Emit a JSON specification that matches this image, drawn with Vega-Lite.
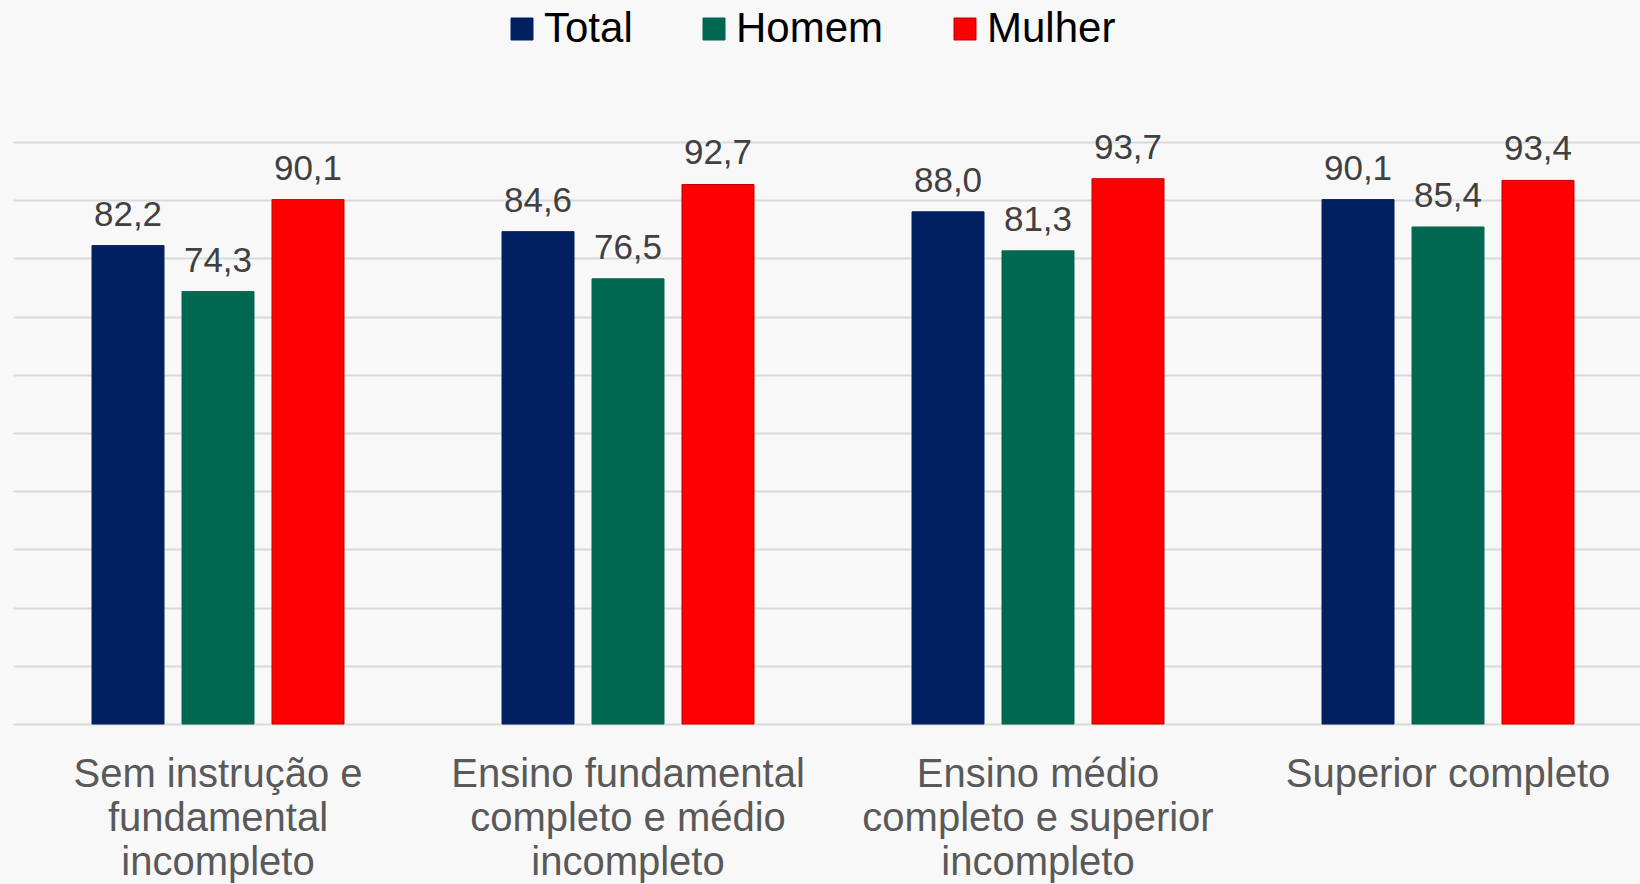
{
  "$schema": "https://vega.github.io/schema/vega-lite/v6.json",
  "autosize": "none",
  "width": 1627,
  "height": 582,
  "padding": {"left": 13, "top": 142, "right": 0, "bottom": 160},
  "background": "#f8f8f8",
  "data": {
    "values": [
      {"grupo": "Sem instrução e fundamental incompleto", "sexo": "Total", "valor": 82.2},
      {"grupo": "Sem instrução e fundamental incompleto", "sexo": "Homem", "valor": 74.3},
      {"grupo": "Sem instrução e fundamental incompleto", "sexo": "Mulher", "valor": 90.1},
      {"grupo": "Ensino fundamental completo e médio incompleto", "sexo": "Total", "valor": 84.6},
      {"grupo": "Ensino fundamental completo e médio incompleto", "sexo": "Homem", "valor": 76.5},
      {"grupo": "Ensino fundamental completo e médio incompleto", "sexo": "Mulher", "valor": 92.7},
      {"grupo": "Ensino médio completo e superior incompleto", "sexo": "Total", "valor": 88.0},
      {"grupo": "Ensino médio completo e superior incompleto", "sexo": "Homem", "valor": 81.3},
      {"grupo": "Ensino médio completo e superior incompleto", "sexo": "Mulher", "valor": 93.7},
      {"grupo": "Superior completo", "sexo": "Total", "valor": 90.1},
      {"grupo": "Superior completo", "sexo": "Homem", "valor": 85.4},
      {"grupo": "Superior completo", "sexo": "Mulher", "valor": 93.4}
    ]
  },
  "encoding": {
    "x": {
      "field": "grupo",
      "type": "nominal",
      "sort": null,
      "scale": {"range": [0, 1640], "paddingInner": 0, "paddingOuter": 0},
      "axis": {
        "title": null,
        "domain": false,
        "ticks": false,
        "labelAngle": 0,
        "labelFont": "Liberation Sans, Arial",
        "labelFontSize": 40,
        "labelColor": "#595959",
        "labelPadding": 30,
        "labelLineHeight": 44,
        "labelLimit": 0,
        "labelExpr": "datum.value == 'Sem instrução e fundamental incompleto' ? ['Sem instrução e', 'fundamental', 'incompleto'] : datum.value == 'Ensino fundamental completo e médio incompleto' ? ['Ensino fundamental', 'completo e médio', 'incompleto'] : datum.value == 'Ensino médio completo e superior incompleto' ? ['Ensino médio', 'completo e superior', 'incompleto'] : datum.value"
      }
    },
    "xOffset": {
      "field": "sexo",
      "type": "nominal",
      "sort": ["Total", "Homem", "Mulher"],
      "scale": {"paddingInner": 0.2, "paddingOuter": 0.878}
    },
    "y": {
      "field": "valor",
      "type": "quantitative",
      "scale": {"domain": [0, 100], "nice": false},
      "axis": {
        "title": null,
        "labels": false,
        "ticks": false,
        "domain": false,
        "grid": true,
        "values": [0, 10, 20, 30, 40, 50, 60, 70, 80, 90, 100],
        "gridColor": "#d9d9d9",
        "gridWidth": 2
      }
    }
  },
  "layer": [
    {
      "mark": {"type": "bar", "strokeWidth": 1},
      "encoding": {
        "fill": {
          "field": "sexo",
          "type": "nominal",
          "sort": ["Total", "Homem", "Mulher"],
          "scale": {"domain": ["Total", "Homem", "Mulher"], "range": ["#002060", "#006850", "#ff0000"]},
          "legend": {
            "orient": "none",
            "direction": "horizontal",
            "legendX": 488,
            "legendY": -134,
            "title": null,
            "symbolType": "square",
            "symbolSize": 484,
            "symbolStrokeWidth": 1,
            "labelFont": "Liberation Sans, Arial",
            "labelFontSize": 42,
            "labelColor": "#000000",
            "labelOffset": 1,
            "columnPadding": 60,
            "labelLimit": 0
          }
        },
        "stroke": {
          "field": "sexo",
          "type": "nominal",
          "sort": ["Total", "Homem", "Mulher"],
          "scale": {"domain": ["Total", "Homem", "Mulher"], "range": ["#002060", "#006850", "#c00000"]},
          "legend": null
        }
      }
    },
    {
      "mark": {
        "type": "text",
        "baseline": "alphabetic",
        "align": "center",
        "dy": -20,
        "font": "Liberation Sans, Arial",
        "fontSize": 35,
        "color": "#404040"
      },
      "encoding": {
        "text": {"field": "valor", "type": "quantitative", "format": ".1f"}
      }
    }
  ],
  "config": {
    "view": {"stroke": null},
    "locale": {"number": {"decimal": ",", "thousands": ".", "grouping": [3], "currency": ["R$", ""]}}
  }
}
